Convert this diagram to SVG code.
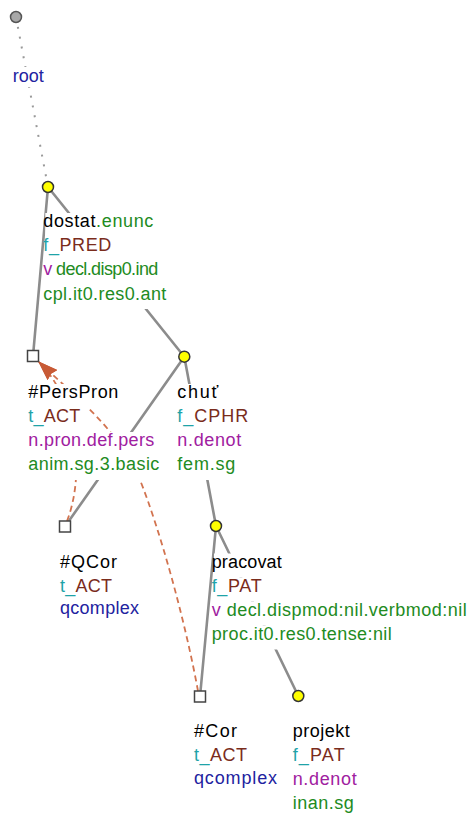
<svg xmlns="http://www.w3.org/2000/svg" width="469" height="813" viewBox="0 0 469 813">
<style>
.t{font-family:"Liberation Sans",Arial,sans-serif;font-size:18px}
.k{fill:#000}.g{fill:#228b22}.c{fill:#1fa3a8}.b{fill:#7a2c1c}.p{fill:#a020a0}.n{fill:#2222a0}
.bg{fill:#fff}
.e{stroke:#8c8c8c;stroke-width:2.6;fill:none;stroke-linecap:round}
.d{stroke:#999;stroke-width:2;fill:none;stroke-dasharray:2 8}
.co{stroke:#d2734f;stroke-width:1.8;fill:none;stroke-dasharray:6 4}
.y{fill:#ffff00;stroke:#333;stroke-width:1.5}
.r{fill:#a8a8a8;stroke:#555;stroke-width:1.5}
.s{fill:#fff;stroke:#444;stroke-width:1.5}
</style>
<defs>
<marker id="arr" viewBox="0 0 20 14" refX="19.5" refY="7" markerWidth="20" markerHeight="14" markerUnits="userSpaceOnUse" orient="auto">
<path d="M0,0 L20,7 L0,14 L2,7 z" fill="#c85a35"/>
</marker>
</defs>
<g id="connectors">
<line class="d" x1="16" y1="17" x2="48" y2="187"/>
<line class="e" x1="48" y1="187" x2="33" y2="356"/>
<line class="e" x1="48" y1="187" x2="184.3" y2="356.7"/>
<line class="e" x1="184.3" y1="356.7" x2="65" y2="526.5"/>
<line class="e" x1="184.3" y1="356.7" x2="216" y2="526"/>
<line class="e" x1="216" y1="526" x2="200" y2="696.5"/>
<line class="e" x1="216" y1="526" x2="298.3" y2="696"/>
<path class="co" d="M198,691 C185,620 160,530 140,480 S70,392 38.5,361.5" marker-end="url(#arr)"/>
<path class="co" d="M67,521 C85,475 78,400 38.5,361.5" marker-end="url(#arr)"/>
</g>
<g id="node-root">
<circle class="r" cx="16" cy="17" r="5.5"/>
<rect class="bg" x="13" y="67" width="32" height="20"/>
<text class="t n" x="12.7" y="81.7" textLength="31">root</text>
</g>
<g id="node-dostat">
<circle class="y" cx="48" cy="187" r="5.5"/>
<rect class="bg" x="45.3" y="213" width="110" height="24"/>
<rect class="bg" x="45.3" y="237" width="68" height="24"/>
<rect class="bg" x="45.3" y="261" width="115" height="24"/>
<rect class="bg" x="45.3" y="285" width="123" height="24"/>
<text class="t" x="43.3" y="227" textLength="110"><tspan class="k">dostat</tspan><tspan class="g">.enunc</tspan></text>
<text class="t" x="43.3" y="251" textLength="68"><tspan class="c">f_</tspan><tspan class="b">PRED</tspan></text>
<text class="t" x="43.3" y="275" textLength="115"><tspan class="p">v</tspan><tspan class="g"> decl.disp0.ind</tspan></text>
<text class="t g" x="43.3" y="299.5" textLength="123">cpl.it0.res0.ant</text>
</g>
<g id="node-perspron">
<rect class="s" x="27.5" y="350.5" width="11" height="11"/>
<rect class="bg" x="30" y="384" width="90" height="24"/>
<rect class="bg" x="30" y="408" width="52" height="24"/>
<rect class="bg" x="30" y="432" width="126" height="24"/>
<rect class="bg" x="30" y="456" width="131" height="24"/>
<text class="t k" x="28.3" y="398" textLength="90">#PersPron</text>
<text class="t" x="28.3" y="422" textLength="52"><tspan class="c">t_</tspan><tspan class="b">ACT</tspan></text>
<text class="t p" x="28.3" y="446" textLength="126">n.pron.def.pers</text>
<text class="t g" x="28.3" y="470" textLength="131">anim.sg.3.basic</text>
</g>
<g id="node-chut">
<circle class="y" cx="184.3" cy="356.7" r="5.5"/>
<rect class="bg" x="179" y="384" width="41" height="24"/>
<rect class="bg" x="179" y="408" width="71" height="24"/>
<rect class="bg" x="179" y="432" width="64" height="24"/>
<rect class="bg" x="179" y="456" width="58" height="24"/>
<text class="t k" x="177.3" y="398" textLength="41">chuť</text>
<text class="t" x="177.3" y="422" textLength="71"><tspan class="c">f_</tspan><tspan class="b">CPHR</tspan></text>
<text class="t p" x="177.3" y="446" textLength="64">n.denot</text>
<text class="t g" x="177.3" y="470" textLength="58">fem.sg</text>
</g>
<g id="node-qcor">
<rect class="s" x="59.5" y="521" width="11" height="11"/>
<rect class="bg" x="62" y="553.5" width="57" height="24"/>
<rect class="bg" x="62" y="577.5" width="52" height="24"/>
<rect class="bg" x="62" y="601.5" width="79" height="24"/>
<text class="t k" x="60" y="567.5" textLength="57">#QCor</text>
<text class="t" x="60" y="591.5" textLength="52"><tspan class="c">t_</tspan><tspan class="b">ACT</tspan></text>
<text class="t n" x="60" y="614" textLength="79">qcomplex</text>
</g>
<g id="node-pracovat">
<circle class="y" cx="216" cy="526" r="5.5"/>
<rect class="bg" x="214" y="553.5" width="70" height="24"/>
<rect class="bg" x="214" y="577.5" width="50" height="24"/>
<rect class="bg" x="214" y="601.5" width="255" height="24"/>
<rect class="bg" x="214" y="625.5" width="180" height="24"/>
<text class="t k" x="211.7" y="567.5" textLength="70">pracovat</text>
<text class="t" x="211.7" y="591.5" textLength="50"><tspan class="c">f_</tspan><tspan class="b">PAT</tspan></text>
<text class="t" x="211.7" y="615.5" textLength="255"><tspan class="p">v</tspan><tspan class="g"> decl.dispmod:nil.verbmod:nil</tspan></text>
<text class="t g" x="211.7" y="639.5" textLength="180">proc.it0.res0.tense:nil</text>
</g>
<g id="node-cor">
<rect class="s" x="194.5" y="691" width="11" height="11"/>
<rect class="bg" x="196" y="722.5" width="43" height="24"/>
<rect class="bg" x="196" y="746.5" width="53" height="24"/>
<rect class="bg" x="196" y="770.5" width="83" height="24"/>
<text class="t k" x="194" y="736.5" textLength="43">#Cor</text>
<text class="t" x="194" y="760.5" textLength="53"><tspan class="c">t_</tspan><tspan class="b">ACT</tspan></text>
<text class="t n" x="194" y="783.5" textLength="83">qcomplex</text>
</g>
<g id="node-projekt">
<circle class="y" cx="298.3" cy="696" r="5.5"/>
<text class="t k" x="292.7" y="736.5" textLength="57">projekt</text>
<text class="t" x="292.7" y="760.5" textLength="52"><tspan class="c">f_</tspan><tspan class="b">PAT</tspan></text>
<text class="t p" x="292.7" y="784.5" textLength="64">n.denot</text>
<text class="t g" x="292.7" y="808.5" textLength="61">inan.sg</text>
</g>
</svg>
